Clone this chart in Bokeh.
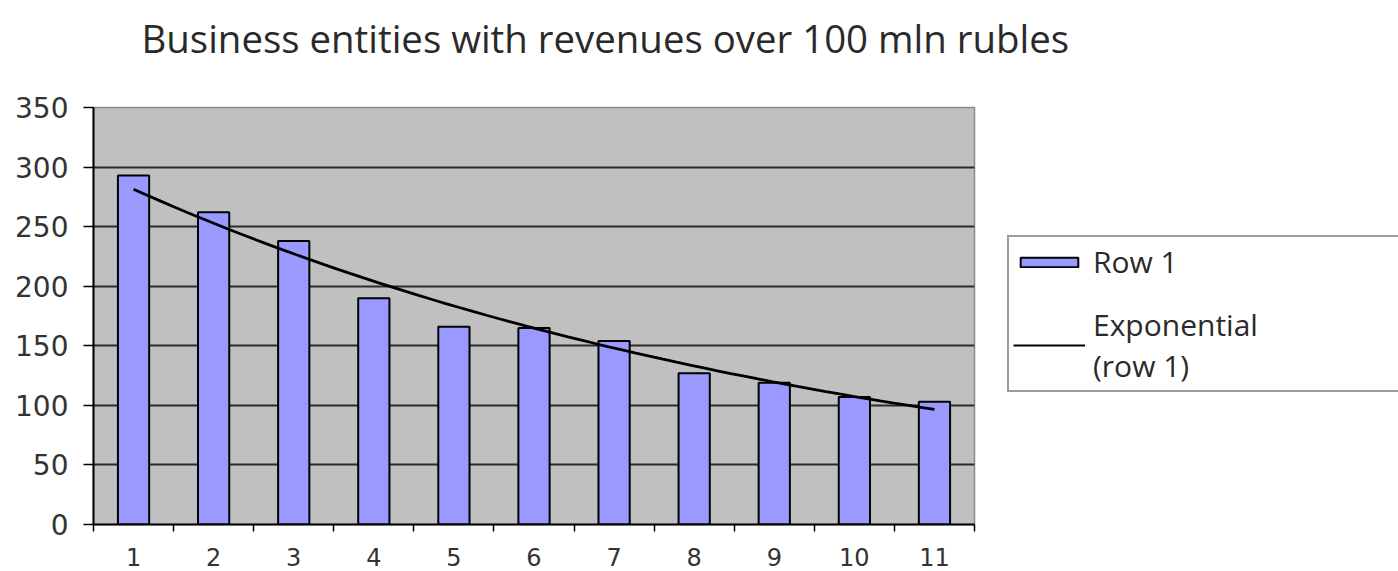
import numpy as np
from bokeh.plotting import figure
from bokeh.layouts import row, column
from bokeh.models import (ColumnDataSource, FixedTicker, Legend, LegendItem, Range1d)
from bokeh.embed import file_html
from bokeh.resources import INLINE

# ---- data ----
categories = [1, 2, 3, 4, 5, 6, 7, 8, 9, 10, 11]
values = [293, 262, 238, 190, 166, 165, 154, 127, 119, 107, 103]
y_ticks = [0, 50, 100, 150, 200, 250, 300, 350]
title_text = "Business entities with revenues over 100 mln rubles"
series_label = "Row 1"
trend_label = "Exponential\n(row 1)"

BAR_FILL = "#9999FF"

# exponential trend line (least squares fit on log values)
cx = np.array(categories, dtype=float)
slope, intercept = np.polyfit(cx, np.log(np.array(values, dtype=float)), 1)
tx = np.linspace(cx[0], cx[-1], 60)
ty = np.exp(intercept + slope * tx)

bar_src = ColumnDataSource(dict(x=categories, top=values))
trend_src = ColumnDataSource(dict(x=tx, y=ty))

# ---- title strip (full width) ----
t = figure(width=1398, height=80, output_backend="svg", toolbar_location=None,
           x_range=Range1d(0, 1), y_range=Range1d(0, 1),
           x_axis_type=None, y_axis_type=None,
           min_border_left=0, min_border_right=0, min_border_top=0, min_border_bottom=0)
t.outline_line_color = None
t.background_fill_color = "white"
t.border_fill_color = "white"
t.xgrid.grid_line_color = None
t.ygrid.grid_line_color = None
t.title.text = title_text
t.title.text_font = "Open Sans"
t.title.text_font_size = "38.4px"
t.title.text_font_style = "normal"
t.title.text_color = "#2a2a2a"
t.title.align = "left"
t.title.offset = 141
t.title.standoff = 19

# ---- chart ----
p = figure(width=990, height=491, output_backend="svg", toolbar_location=None,
           x_range=Range1d(0.5, 11.5), y_range=Range1d(0, 350),
           min_border_left=93, min_border_right=16, min_border_top=27,
           min_border_bottom=47)

p.background_fill_color = "#C0C0C0"
p.border_fill_color = "white"
p.outline_line_color = "#8a8a8a"
p.outline_line_width = 1.5

bars = p.vbar(x="x", top="top", width=0.39, source=bar_src,
              fill_color=BAR_FILL, line_color="black", line_width=2)
trend = p.line(x="x", y="y", source=trend_src, line_color="black", line_width=2.8)

p.xaxis.ticker = FixedTicker(ticks=categories,
                             minor_ticks=[c - 0.5 for c in categories] + [categories[-1] + 0.5])
p.xaxis.major_tick_out = 0
p.xaxis.major_tick_in = 0
p.xaxis.minor_tick_out = 7
p.xaxis.minor_tick_in = 0
p.xaxis.minor_tick_line_color = "black"
p.xaxis.minor_tick_line_width = 1.5
p.xaxis.axis_line_color = "black"
p.xaxis.axis_line_width = 2
p.xaxis.major_label_standoff = 16
p.xaxis.major_label_text_font = "DejaVu Sans"
p.xaxis.major_label_text_font_size = "24px"
p.xaxis.major_label_text_color = "#333333"

p.yaxis.ticker = FixedTicker(ticks=y_ticks)
p.yaxis.major_tick_out = 10
p.yaxis.major_tick_in = 0
p.yaxis.minor_tick_line_color = None
p.yaxis.major_tick_line_color = "black"
p.yaxis.major_tick_line_width = 1.5
p.yaxis.axis_line_color = "black"
p.yaxis.axis_line_width = 2
p.yaxis.major_label_standoff = 15
p.yaxis.major_label_text_font = "DejaVu Sans"
p.yaxis.major_label_text_font_size = "28px"
p.yaxis.major_label_text_color = "#333333"

p.xgrid.grid_line_color = None
p.ygrid.grid_line_color = "#2b2b2b"
p.ygrid.grid_line_width = 2

# ---- legend panel to the right (hidden copies of the series supply the legend glyphs) ----
q = figure(width=408, height=491, output_backend="svg", toolbar_location=None,
           x_range=Range1d(0.5, 11.5), y_range=Range1d(0, 350),
           x_axis_type=None, y_axis_type=None,
           min_border_left=0, min_border_right=0, min_border_top=0, min_border_bottom=0)
q.outline_line_color = None
q.background_fill_color = "white"
q.border_fill_color = "white"
q.xgrid.grid_line_color = None
q.ygrid.grid_line_color = None
lg_bar = q.vbar(x="x", top="top", width=0.39, source=bar_src, visible=False,
                fill_color=BAR_FILL, line_color="black", line_width=2)
lg_line = q.line(x="x", y="y", source=trend_src, visible=False,
                 line_color="black", line_width=2)

legend = Legend(items=[LegendItem(label=series_label, renderers=[lg_bar]),
                       LegendItem(label=trend_label, renderers=[lg_line])],
                location=(17, 132), click_policy="none")
legend.label_text_font = "Open Sans"
legend.label_text_font_size = "30px"
legend.label_text_color = "#2a2a2a"
legend.glyph_width = 72
legend.glyph_height = 12
legend.label_standoff = 8
legend.label_width = 420
legend.padding = 4
legend.spacing = 22
legend.margin = 0
legend.border_line_color = "#3a3a3a"
legend.border_line_width = 2
legend.background_fill_color = "white"
legend.background_fill_alpha = 1
q.add_layout(legend, "center")

layout = column(t, row(p, q))
open("out.html", "w").write(file_html(layout, INLINE))
